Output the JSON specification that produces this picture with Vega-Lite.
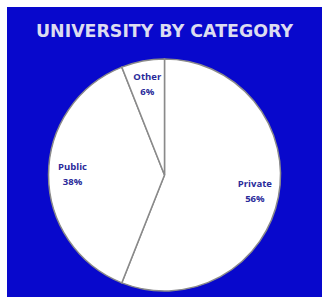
{
  "$schema": "https://vega.github.io/schema/vega-lite/v6.json",
  "autosize": {"type": "fit", "contains": "padding"},
  "width": 322,
  "height": 297,
  "padding": {"left": 7, "top": 7, "right": 0, "bottom": 0},
  "background": "white",
  "view": {"fill": "#0808CC", "stroke": null},
  "title": {
    "text": "UNIVERSITY BY CATEGORY",
    "orient": "top",
    "anchor": "middle",
    "offset": -33,
    "font": "DejaVu Sans",
    "fontSize": 17.4,
    "fontWeight": "bold",
    "color": "#DCDCF0"
  },
  "data": {
    "values": [
      {"category": "Private", "share": 56, "order": 1, "label": "Private\n56%"},
      {"category": "Public", "share": 38, "order": 2, "label": "Public\n38%"},
      {"category": "Other", "share": 6, "order": 3, "label": "Other\n6%"}
    ]
  },
  "encoding": {
    "theta": {"field": "share", "type": "quantitative", "stack": true},
    "order": {"field": "order", "type": "quantitative"}
  },
  "layer": [
    {
      "mark": {"type": "arc", "outerRadius": 116, "yOffset": 23, "fill": "white", "stroke": "#8A8A8A", "strokeWidth": 1.5}
    },
    {
      "mark": {"type": "text", "radius": 92, "yOffset": 15, "fontSize": 9.5, "fontWeight": "bold", "font": "Open Sans", "color": "#2A2A9A", "lineBreak": "\n", "lineHeight": 15},
      "encoding": {"text": {"field": "label"}}
    }
  ]
}
